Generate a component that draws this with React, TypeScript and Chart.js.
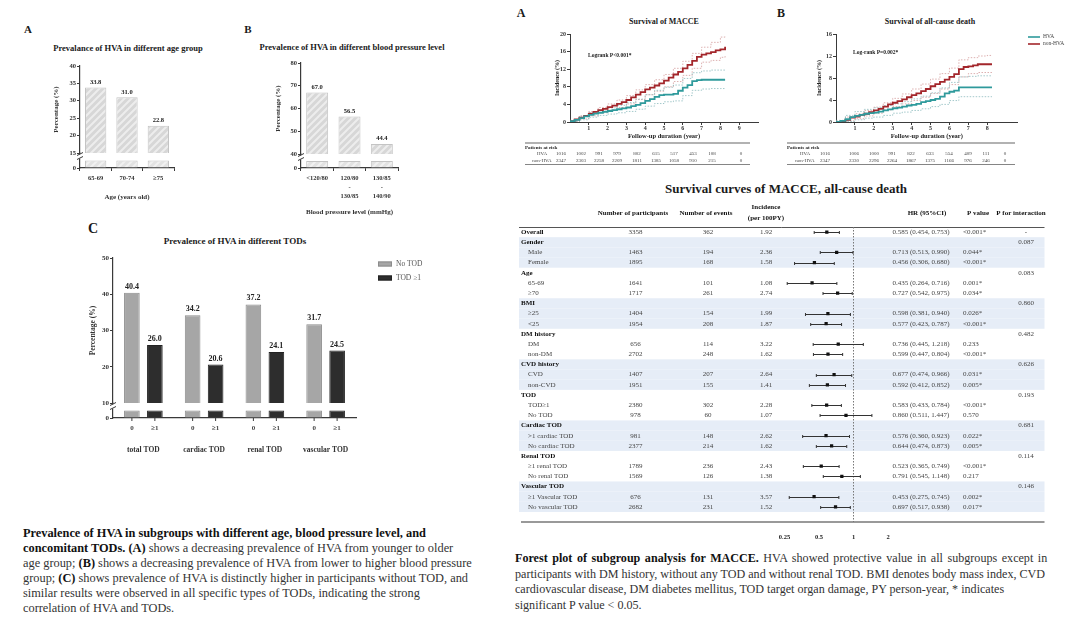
import React, { useEffect, useRef } from 'react';
import { Chart, registerables } from 'chart.js';

Chart.register(...registerables);

const SERIF = "'Liberation Serif', 'Times New Roman', serif";
const AXIS = '#3a3a3a';
const TEAL = '#2f9a9c';
const RED = '#a3262b';
const TEAL_CI = 'rgba(120,175,178,0.85)';
const RED_CI = 'rgba(205,140,140,0.85)';
const SHADE = '#e6edf7';
const BREAK_STUB = 1;
const BREAK_AXIS_MAX = 2;

// ---------------- Panel A (left): age groups ----------------
const ageGroups = ['65-69', '70-74', '≥75'];
const ageHva = [33.8, 31.0, 22.8];

// ---------------- Panel B (left): blood pressure ----------------
const bpGroups = [['<120/80'], ['120/80', '-', '130/85'], ['130/85', '-', '140/90']];
const bpHva = [67.0, 56.5, 44.4];

// ---------------- Panel C (left): TODs ----------------
const todGroups = ['total TOD', 'cardiac TOD', 'renal TOD', 'vascular TOD'];
const todSeries = ['No TOD', 'TOD ≥1'];
const todSubLabels = ['0', '≥1'];
const noTodHva = [40.4, 34.2, 37.2, 31.7];
const withTodHva = [26.0, 20.6, 24.1, 24.5];

// ---------------- Kaplan-Meier curves ----------------
const kmTimes = [0, 0.25, 0.5, 0.75, 1, 1.25, 1.5, 1.75, 2, 2.25, 2.5, 2.75, 3, 3.25, 3.5, 3.75, 4, 4.25, 4.5, 4.75, 5, 5.25, 5.5, 5.75, 6, 6.25, 6.5, 6.75, 7, 7.25, 7.5, 7.75, 8, 8.25];
const ciTimes = [0, 0.5, 1, 1.5, 2, 2.5, 3, 3.5, 4, 4.5, 5, 5.5, 6, 6.5, 7, 7.5, 8, 8.25];
const kmGroups = ['HVA', 'non-HVA'];

const maccNonHva = [0.2, 0.6, 1.0, 1.4, 1.9, 2.3, 2.7, 3.0, 3.4, 3.7, 4.1, 4.5, 5.0, 5.6, 6.2, 6.8, 7.4, 7.8, 8.3, 8.8, 9.4, 10.1, 10.8, 11.4, 12.2, 13.0, 13.9, 14.8, 15.3, 15.6, 15.9, 16.3, 16.5, 17.1];
const maccHva = [0.2, 0.5, 0.9, 1.3, 1.6, 1.9, 2.1, 2.3, 2.5, 2.7, 2.9, 3.1, 3.3, 3.6, 3.9, 4.3, 4.8, 5.2, 5.7, 6.1, 6.2, 6.2, 6.4, 7.1, 7.8, 8.4, 9.3, 9.5, 9.6, 9.6, 9.6, 9.6, 9.6, 9.6];
const maccNonHvaUpper = [0.4, 1.4, 2.4, 3.3, 4.1, 5.0, 6.0, 7.3, 8.5, 9.6, 10.8, 12.2, 13.8, 15.6, 17.0, 18.1, 19.3, 19.6];
const maccNonHvaLower = [0.1, 0.7, 1.4, 2.1, 2.7, 3.3, 4.1, 5.1, 6.2, 7.0, 8.0, 9.2, 10.6, 12.2, 13.6, 14.0, 14.7, 15.0];
const maccHvaUpper = [0.3, 1.3, 2.1, 2.7, 3.2, 3.8, 4.4, 5.2, 6.2, 7.2, 7.9, 8.4, 9.9, 11.2, 11.6, 11.8, 11.8, 11.8];
const maccHvaLower = [0.1, 0.5, 1.1, 1.5, 1.8, 2.1, 2.4, 2.9, 3.6, 4.2, 4.6, 4.8, 6.0, 7.2, 7.5, 7.6, 7.6, 7.6];

const deathNonHva = [0, 0.1, 0.4, 0.8, 1.0, 1.3, 1.5, 1.8, 2.1, 2.4, 2.8, 3.2, 3.5, 3.8, 4.1, 4.5, 4.9, 5.2, 5.6, 6.0, 6.5, 6.9, 7.3, 7.7, 8.2, 8.7, 9.6, 10.0, 10.1, 10.3, 10.5, 10.5, 10.5, 10.5];
const deathHva = [0, 0.2, 0.5, 0.9, 1.1, 1.3, 1.5, 1.6, 1.7, 1.9, 2.1, 2.3, 2.5, 2.6, 2.8, 3.0, 3.1, 3.3, 3.6, 3.8, 4.0, 4.2, 4.6, 5.2, 5.5, 5.7, 6.3, 6.3, 6.3, 6.3, 6.3, 6.3, 6.3, 6.3];
const deathNonHvaUpper = [0.2, 0.9, 1.5, 2.1, 2.7, 3.5, 4.3, 5.1, 6.0, 6.9, 7.8, 8.8, 9.8, 11.3, 11.7, 12.0, 12.1, 12.1];
const deathNonHvaLower = [0, 0.2, 0.6, 1.1, 1.6, 2.2, 2.8, 3.3, 3.9, 4.5, 5.2, 6.0, 6.8, 8.2, 8.8, 9.0, 9.0, 9.0];
const deathHvaUpper = [0.3, 1.2, 1.9, 2.3, 2.6, 3.0, 3.3, 3.7, 4.2, 4.7, 5.3, 6.2, 7.2, 8.2, 8.3, 8.4, 8.4, 8.4];
const deathHvaLower = [0, 0.1, 0.4, 0.7, 0.9, 1.2, 1.6, 1.8, 2.1, 2.4, 2.8, 3.2, 3.9, 4.6, 4.6, 4.6, 4.6, 4.6];

const maccRiskHva = [1016, 1002, 991, 979, 802, 615, 517, 453, 108, 0];
const maccRiskNonHva = [2347, 2303, 2258, 2209, 1811, 1385, 1058, 910, 215, 0];
const deathRiskHva = [1016, 1006, 1000, 991, 822, 633, 554, 409, 111, 0];
const deathRiskNonHva = [2347, 2330, 2296, 2264, 1867, 1375, 1166, 976, 246, 0];

// ---------------- Forest plot ----------------
const forestLabels = ['Overall', 'Gender', 'Male', 'Female', 'Age', '65-69', '≥70', 'BMI', '≥25', '<25', 'DM history', 'DM', 'non-DM', 'CVD history', 'CVD', 'non-CVD', 'TOD', 'TOD≥1', 'No TOD', 'Cardiac TOD', '>1 cardiac TOD', 'No cardiac TOD', 'Renal TOD', '≥1 renal TOD', 'No renal TOD', 'Vascular TOD', '≥1 Vascular TOD', 'No vascular TOD'];
const forestIndent = [0, 0, 1, 1, 0, 1, 1, 0, 1, 1, 0, 1, 1, 0, 1, 1, 0, 1, 1, 0, 1, 1, 0, 1, 1, 0, 1, 1];
const forestParticipants = [3358, null, 1463, 1895, null, 1641, 1717, null, 1404, 1954, null, 656, 2702, null, 1407, 1951, null, 2380, 978, null, 981, 2377, null, 1789, 1569, null, 676, 2682];
const forestEvents = [362, null, 194, 168, null, 101, 261, null, 154, 208, null, 114, 248, null, 207, 155, null, 302, 60, null, 148, 214, null, 236, 126, null, 131, 231];
const forestIncidence = [1.92, null, 2.36, 1.58, null, 1.08, 2.74, null, 1.99, 1.87, null, 3.22, 1.62, null, 2.64, 1.41, null, 2.28, 1.07, null, 2.62, 1.62, null, 2.43, 1.38, null, 3.57, 1.52];
const forestHR = [0.585, null, 0.713, 0.456, null, 0.435, 0.727, null, 0.598, 0.577, null, 0.736, 0.599, null, 0.677, 0.592, null, 0.583, 0.860, null, 0.576, 0.644, null, 0.523, 0.791, null, 0.453, 0.697];
const forestLow = [0.454, null, 0.513, 0.306, null, 0.264, 0.542, null, 0.381, 0.423, null, 0.445, 0.447, null, 0.474, 0.412, null, 0.433, 0.511, null, 0.360, 0.474, null, 0.365, 0.545, null, 0.275, 0.517];
const forestHigh = [0.753, null, 0.990, 0.680, null, 0.716, 0.975, null, 0.940, 0.787, null, 1.218, 0.804, null, 0.966, 0.852, null, 0.784, 1.447, null, 0.923, 0.873, null, 0.749, 1.148, null, 0.745, 0.938];
const forestP = ['<0.001*', '', '0.044*', '<0.001*', '', '0.001*', '0.034*', '', '0.026*', '<0.001*', '', '0.233', '<0.001*', '', '0.031*', '0.005*', '', '<0.001*', '0.570', '', '0.022*', '0.005*', '', '<0.001*', '0.217', '', '0.002*', '0.017*'];
const forestPInteraction = ['-', '0.087', '', '', '0.083', '', '', '0.860', '', '', '0.482', '', '', '0.626', '', '', '0.193', '', '', '0.681', '', '', '0.114', '', '', '0.146', '', ''];
const forestTicks = [0.25, 0.5, 1, 2];

// ---------------- helpers ----------------
function makeHatch(base: string, stripe: string) {
  const size = 7;
  const c = document.createElement('canvas');
  c.width = size;
  c.height = size;
  const g = c.getContext('2d')!;
  g.fillStyle = base;
  g.fillRect(0, 0, size, size);
  g.strokeStyle = stripe;
  g.lineWidth = 2;
  g.beginPath();
  g.moveTo(-1, size + 1);
  g.lineTo(size + 1, -1);
  g.moveTo(-1, 1);
  g.lineTo(1, -1);
  g.moveTo(size - 1, size + 1);
  g.lineTo(size + 1, size - 1);
  g.stroke();
  return g.createPattern(c, 'repeat')!;
}

const font = (size: number, bold = true) => ({ family: SERIF, size, weight: bold ? 'bold' : 'normal' });

const axisBreak = {
  id: 'axisBreak',
  afterDraw(chart: any) {
    const { ctx, chartArea } = chart;
    const x0 = chartArea.left;
    const yb = chart.scales.y.bottom;
    ctx.save();
    ctx.fillStyle = '#fff';
    ctx.fillRect(x0 - 2, yb + 1.5, 4, 4);
    ctx.strokeStyle = AXIS;
    ctx.lineWidth = 1;
    ctx.beginPath();
    ctx.moveTo(x0 - 3, yb + 2.5);
    ctx.lineTo(x0 + 3, yb - 0.5);
    ctx.moveTo(x0 - 3, yb + 6.5);
    ctx.lineTo(x0 + 3, yb + 3.5);
    ctx.stroke();
    ctx.restore();
  },
};

function valueLabels(size: number, count: number) {
  return {
    id: 'valueLabels',
    afterDatasetsDraw(chart: any) {
      const ctx = chart.ctx;
      ctx.save();
      ctx.font = `bold ${size}px ${SERIF}`;
      ctx.fillStyle = '#222';
      ctx.textAlign = 'center';
      ctx.textBaseline = 'bottom';
      for (let d = 0; d < count; d++) {
        const ds = chart.data.datasets[d];
        chart.getDatasetMeta(d).data.forEach((bar: any, i: number) => {
          ctx.fillText(Number(ds.data[i]).toFixed(1), bar.x, bar.y - 2);
        });
      }
      ctx.restore();
    },
  };
}

function breakBarConfig(p: any) {
  const datasets: any[] = [];
  p.series.forEach((s: any, i: number) => {
    datasets.push({
      label: s.label, data: s.data, yAxisID: 'y', stack: 's' + i,
      backgroundColor: s.fill, borderColor: s.border, borderWidth: 1,
      categoryPercentage: p.catPct, barPercentage: p.barPct,
    });
  });
  p.series.forEach((s: any, i: number) => {
    datasets.push({
      label: s.label + ' (below break)', data: s.data.map((v: number) => Math.min(v, BREAK_STUB)), yAxisID: 'yb', stack: 's' + i,
      backgroundColor: s.stubFill, borderColor: s.border, borderWidth: 1,
      categoryPercentage: p.catPct, barPercentage: p.barPct,
    });
  });
  const yCommon: any = {
    position: 'left',
    stack: 'v',
    grid: { drawOnChartArea: false, drawTicks: true, tickLength: 3, color: AXIS },
    border: { display: true, color: AXIS, width: 1.2 },
    afterFit: (s: any) => { s.width = p.yW; },
  };
  return {
    type: 'bar',
    data: { labels: p.labels, datasets },
    options: {
      responsive: false,
      animation: false,
      layout: { padding: { top: p.padTop, right: p.padRight, left: 0, bottom: 0 } },
      plugins: { legend: { display: false }, tooltip: { enabled: false } },
      scales: {
        x: {
          type: 'category',
          offset: true,
          grid: { drawOnChartArea: false, color: AXIS, ...p.xGrid },
          border: { display: true, color: AXIS, width: 1.2 },
          ticks: { font: font(p.xTickSize), color: '#333', autoSkip: false, maxRotation: 0, ...p.xTicks },
          title: p.xTitle ? { display: true, text: p.xTitle, font: font(7), color: '#333', padding: { top: 0, bottom: p.xTitlePad } } : { display: false },
          afterFit: (s: any) => { s.height = p.xH; },
        },
        y: {
          ...yCommon,
          type: 'linear',
          weight: 2,
          stackWeight: p.topWeight,
          min: p.min,
          max: p.max,
          ticks: { font: font(p.yTickSize), color: '#333', padding: 1, stepSize: p.step },
          title: { display: true, text: 'Percentage (%)', font: font(p.yTitleSize), color: '#333', padding: { top: p.yTitlePad, bottom: 0 } },
        },
        yb: {
          ...yCommon,
          type: 'linear',
          weight: 1,
          stackWeight: p.botWeight,
          min: 0,
          max: BREAK_AXIS_MAX,
          ticks: { font: font(p.yTickSize), color: '#333', padding: 1 },
          afterBuildTicks: (s: any) => { s.ticks = [{ value: 0 }]; },
        },
      },
    },
    plugins: [axisBreak, valueLabels(p.valueSize, p.series.length), ...(p.plugins || [])],
  };
}

function ageConfig() {
  const hatch = makeHatch('#d7d7d7', '#ededed');
  const hatchLight = makeHatch('#e2e2e2', '#f1f1f1');
  return breakBarConfig({
    labels: ageGroups,
    series: [{ label: 'HVA prevalence', data: ageHva, fill: hatch, stubFill: hatchLight, border: '#c4c4c4' }],
    min: 15, max: 40, step: 5,
    yW: 32, xH: 40, padTop: 10, padRight: 16,
    topWeight: 87, botWeight: 15,
    catPct: 1, barPct: 0.68,
    xTickSize: 6.5, yTickSize: 6.5, yTitleSize: 7, valueSize: 6.5,
    xTicks: { padding: 3 }, xGrid: { drawTicks: true, tickLength: 3 },
    xTitle: 'Age (years old)', xTitlePad: 6.8, yTitlePad: 3.8,
  });
}

function bpConfig() {
  const hatch = makeHatch('#d7d7d7', '#ededed');
  const hatchLight = makeHatch('#e2e2e2', '#f1f1f1');
  return breakBarConfig({
    labels: bpGroups,
    series: [{ label: 'HVA prevalence', data: bpHva, fill: hatch, stubFill: hatchLight, border: '#c4c4c4' }],
    min: 40, max: 80, step: 10,
    yW: 31, xH: 54, padTop: 10, padRight: 12,
    topWeight: 91, botWeight: 14,
    catPct: 1, barPct: 0.68,
    xTickSize: 6.5, yTickSize: 6.5, yTitleSize: 7, valueSize: 6.5,
    xTicks: { padding: 2.6, font: { family: SERIF, size: 6.5, weight: 'bold', lineHeight: 1.4 } },
    xGrid: { drawTicks: true, tickLength: 3 },
    xTitle: 'Blood pressure level (mmHg)', xTitlePad: 5.8, yTitlePad: 3.8,
  });
}

const todExtras = {
  id: 'todExtras',
  afterDraw(chart: any) {
    const { ctx, chartArea } = chart;
    ctx.save();
    ctx.strokeStyle = AXIS;
    ctx.lineWidth = 1;
    ctx.fillStyle = '#444';
    ctx.font = `bold 7px ${SERIF}`;
    ctx.textAlign = 'center';
    ctx.textBaseline = 'middle';
    [0, 1].forEach((d) => {
      chart.getDatasetMeta(d).data.forEach((bar: any) => {
        ctx.beginPath();
        ctx.moveTo(bar.x, chartArea.bottom);
        ctx.lineTo(bar.x, chartArea.bottom + 3);
        ctx.stroke();
        ctx.fillText(todSubLabels[d], bar.x, chartArea.bottom + 10);
      });
    });
    // legend
    const lx = 293;
    const ly = 14;
    ctx.textAlign = 'left';
    ctx.font = `7.5px ${SERIF}`;
    [0, 1].forEach((d) => {
      const ds = chart.data.datasets[d];
      const yy = ly + d * 14;
      ctx.fillStyle = ds.backgroundColor;
      ctx.fillRect(lx, yy - 2.5, 14, 5);
      ctx.strokeStyle = ds.borderColor;
      ctx.strokeRect(lx + 0.5, yy - 2, 13, 4);
      ctx.fillStyle = '#555';
      ctx.fillText(ds.label, lx + 18, yy);
    });
    ctx.restore();
  },
};

function todConfig() {
  return breakBarConfig({
    labels: todGroups,
    series: [
      { label: todSeries[0], data: noTodHva, fill: '#a6a6a6', stubFill: '#a6a6a6', border: '#8c8c8c' },
      { label: todSeries[1], data: withTodHva, fill: '#2d2d2d', stubFill: '#2d2d2d', border: '#222' },
    ],
    min: 10, max: 50, step: 10,
    yW: 28, xH: 44, padTop: 8, padRight: 74,
    topWeight: 145, botWeight: 15,
    catPct: 0.757, barPct: 0.68,
    xTickSize: 7.5, yTickSize: 7, yTitleSize: 7.5, valueSize: 8,
    xTicks: { padding: 27.5 }, xGrid: { drawTicks: false },
    yTitlePad: 3.5,
    plugins: [todExtras],
  });
}

function survivalExtras(o: any) {
  return {
    id: 'survivalExtras',
    afterDraw(chart: any) {
      const ctx = chart.ctx;
      ctx.save();
      ctx.textBaseline = 'middle';
      ctx.textAlign = 'left';
      ctx.fillStyle = '#222';
      ctx.font = `bold 5.5px ${SERIF}`;
      ctx.fillText(o.logrank, o.logrankX, o.logrankY);
      // risk table
      ctx.strokeStyle = '#666';
      ctx.lineWidth = 1.2;
      ctx.beginPath();
      ctx.moveTo(o.tableL, 115);
      ctx.lineTo(o.tableR, 115);
      ctx.stroke();
      ctx.lineWidth = 0.8;
      ctx.beginPath();
      ctx.moveTo(o.tableL, 136.5);
      ctx.lineTo(o.tableR, 136.5);
      ctx.stroke();
      ctx.font = `bold 5px ${SERIF}`;
      ctx.fillText('Patients at risk', o.tableL, 119.5);
      ctx.font = `5px ${SERIF}`;
      ctx.fillStyle = '#444';
      ctx.textAlign = 'center';
      kmGroups.forEach((g, r) => {
        const yy = 126 + r * 7;
        ctx.fillText(g, o.labelX, yy);
        o.risk[r].forEach((v: number, c: number) => ctx.fillText(String(v), o.cols[c], yy));
      });
      if (o.legend) {
        ctx.textAlign = 'left';
        ctx.font = `5.5px ${SERIF}`;
        [0, 1].forEach((d) => {
          const ds = chart.data.datasets[d];
          const yy = o.legend.y + d * 7;
          ctx.strokeStyle = ds.borderColor;
          ctx.lineWidth = 1.6;
          ctx.beginPath();
          ctx.moveTo(o.legend.x, yy);
          ctx.lineTo(o.legend.x + 12, yy);
          ctx.stroke();
          ctx.fillStyle = '#444';
          ctx.fillText(ds.label, o.legend.x + 15, yy);
        });
      }
      ctx.restore();
    },
  };
}

function survivalConfig(p: any) {
  const pts = (ts: number[], vs: number[]) => ts.map((t, i) => ({ x: t, y: vs[i] }));
  const main = (label: string, data: any[], color: string) => ({ label, data, borderColor: color, backgroundColor: color, borderWidth: 1.8, stepped: true, pointRadius: 0, fill: false });
  const ci = (label: string, data: any[], color: string) => ({ label, data, borderColor: color, borderWidth: 0.8, borderDash: [1.5, 1.5], stepped: true, pointRadius: 0, fill: false });
  return {
    type: 'line',
    data: {
      datasets: [
        main(kmGroups[0], pts(kmTimes, p.hva), TEAL),
        main(kmGroups[1], pts(kmTimes, p.non), RED),
        ci('HVA upper CI', pts(ciTimes, p.hvaU), TEAL_CI),
        ci('HVA lower CI', pts(ciTimes, p.hvaL), TEAL_CI),
        ci('non-HVA upper CI', pts(ciTimes, p.nonU), RED_CI),
        ci('non-HVA lower CI', pts(ciTimes, p.nonL), RED_CI),
      ],
    },
    options: {
      responsive: false,
      animation: false,
      layout: { padding: { top: 6, right: p.padRight, bottom: 27, left: 0 } },
      plugins: { legend: { display: false }, tooltip: { enabled: false } },
      scales: {
        x: {
          type: 'linear', min: 0, max: p.xMax,
          ticks: { stepSize: 1, font: font(6), color: '#333', padding: 0 },
          afterBuildTicks: (s: any) => { s.ticks = s.ticks.filter((t: any) => Number.isInteger(t.value) && t.value >= 1 && t.value <= 9); },
          grid: { drawOnChartArea: false, tickLength: 3, color: AXIS },
          border: { color: AXIS, width: 1 },
          title: { display: true, text: 'Follow-up duration (year)', font: font(6.5), color: '#222', padding: { top: 0, bottom: 1 } },
          afterFit: (s: any) => { s.height = 19; },
        },
        y: {
          type: 'linear', min: 0, max: p.yMax,
          ticks: { stepSize: 4, font: font(6), color: '#333', padding: 1 },
          grid: { drawOnChartArea: false, tickLength: 3, color: AXIS },
          border: { color: AXIS, width: 1 },
          title: { display: true, text: 'Incidence (%)', font: font(6), color: '#222', padding: { top: p.yTitlePad, bottom: 0 } },
          afterFit: (s: any) => { s.width = p.yW; },
        },
      },
    },
    plugins: [survivalExtras(p.extras)],
  };
}

function maccConfig() {
  return survivalConfig({
    hva: maccHva, non: maccNonHva, hvaU: maccHvaUpper, hvaL: maccHvaLower, nonU: maccNonHvaUpper, nonL: maccNonHvaLower,
    yMax: 20, xMax: 10, yW: 55, yTitlePad: 38.4, padRight: 10,
    extras: {
      risk: [maccRiskHva, maccRiskNonHva],
      cols: [46, 66, 84, 102, 122, 141, 159, 178, 197, 226],
      labelX: 27, tableL: 10, tableR: 235,
      logrank: 'Logrank P<0.001*', logrankX: 73, logrankY: 28,
    },
  });
}

function deathConfig() {
  return survivalConfig({
    hva: deathHva, non: deathNonHva, hvaU: deathHvaUpper, hvaL: deathHvaLower, nonU: deathNonHvaUpper, nonL: deathNonHvaLower,
    yMax: 16, xMax: 9.6, yW: 56, yTitlePad: 35.4, padRight: 57.5,
    extras: {
      risk: [deathRiskHva, deathRiskNonHva],
      cols: [45, 74, 94, 112, 131, 150, 169, 188, 206, 225],
      labelX: 25, tableL: 7, tableR: 235,
      logrank: 'Log-rank P=0.002*', logrankX: 73, logrankY: 25,
      legend: { x: 248, y: 9 },
    },
  });
}

// forest table column layout (canvas-relative)
const FT = {
  L: 9, R: 534.5, labelHead: 11, labelSub: 18,
  part: 125.5, events: 198, inc: 256, hr: 411, p: 453, pint: 516,
  hPart: 123, hEvents: 196, hHr: 417, hP: 468, hPint: 511,
  axisY: 327, tickY: 342,
};

const forestPlugin = {
  id: 'forestTable',
  beforeDatasetsDraw(chart: any) {
    const { ctx, chartArea } = chart;
    const { x, y } = chart.scales;
    const rowH = Math.abs(y.getPixelForValue(1) - y.getPixelForValue(0));
    ctx.save();
    let group = -1;
    forestLabels.forEach((_, i) => {
      if (forestIndent[i] === 0) group += 1;
      if (group % 2 === 1) {
        const cy = y.getPixelForValue(i);
        ctx.fillStyle = SHADE;
        ctx.fillRect(FT.L, cy - rowH / 2, FT.R - FT.L, rowH);
      }
    });
    ctx.strokeStyle = '#555';
    ctx.lineWidth = 1;
    ctx.beginPath();
    ctx.moveTo(FT.L, chartArea.top + 0.5);
    ctx.lineTo(FT.R, chartArea.top + 0.5);
    ctx.stroke();
    const x1 = x.getPixelForValue(1);
    ctx.setLineDash([1.5, 1.5]);
    ctx.strokeStyle = '#777';
    ctx.beginPath();
    ctx.moveTo(x1, chartArea.top);
    ctx.lineTo(x1, FT.axisY);
    ctx.stroke();
    ctx.setLineDash([]);
    ctx.strokeStyle = '#333';
    ctx.lineWidth = 1;
    forestLabels.forEach((_, i) => {
      if (forestHR[i] == null) return;
      const cy = Math.round(y.getPixelForValue(i)) + 0.5;
      const xl = x.getPixelForValue(forestLow[i]);
      const xh = x.getPixelForValue(forestHigh[i]);
      ctx.beginPath();
      ctx.moveTo(xl, cy);
      ctx.lineTo(xh, cy);
      ctx.moveTo(xl, cy - 1.5);
      ctx.lineTo(xl, cy + 1.5);
      ctx.moveTo(xh, cy - 1.5);
      ctx.lineTo(xh, cy + 1.5);
      ctx.stroke();
    });
    ctx.restore();
  },
  afterDraw(chart: any) {
    const { ctx } = chart;
    const { x, y } = chart.scales;
    ctx.save();
    ctx.textBaseline = 'middle';
    ctx.fillStyle = '#111';
    ctx.font = `bold 7px ${SERIF}`;
    ctx.textAlign = 'center';
    ctx.fillText('Number of participants', FT.hPart, 18);
    ctx.fillText('Number of events', FT.hEvents, 18);
    ctx.fillText('Incidence', FT.inc, 12.5);
    ctx.fillText('(per 100PY)', FT.inc, 23.5);
    ctx.fillText('HR (95%CI)', FT.hHr, 18);
    ctx.fillText('P value', FT.hP, 18);
    ctx.fillText('P for interaction', FT.hPint, 18);
    forestLabels.forEach((label, i) => {
      const cy = y.getPixelForValue(i);
      const head = forestIndent[i] === 0;
      ctx.textAlign = 'left';
      ctx.fillStyle = head ? '#111' : '#444';
      ctx.font = `${head ? 'bold ' : ''}7px ${SERIF}`;
      ctx.fillText(label, head ? FT.labelHead : FT.labelSub, cy);
      ctx.font = `7px ${SERIF}`;
      ctx.fillStyle = '#444';
      ctx.textAlign = 'center';
      if (forestParticipants[i] != null) ctx.fillText(String(forestParticipants[i]), FT.part, cy);
      if (forestEvents[i] != null) ctx.fillText(String(forestEvents[i]), FT.events, cy);
      if (forestIncidence[i] != null) ctx.fillText((forestIncidence[i] as number).toFixed(2), FT.inc, cy);
      if (forestHR[i] != null) {
        ctx.fillText(`${(forestHR[i] as number).toFixed(3)} (${(forestLow[i] as number).toFixed(3)}, ${(forestHigh[i] as number).toFixed(3)})`, FT.hr, cy);
      }
      if (forestPInteraction[i]) ctx.fillText(forestPInteraction[i], FT.pint, cy);
      ctx.textAlign = 'left';
      if (forestP[i]) ctx.fillText(forestP[i], FT.p, cy);
    });
    ctx.strokeStyle = '#777';
    ctx.lineWidth = 1.5;
    ctx.beginPath();
    ctx.moveTo(FT.labelHead, FT.axisY);
    ctx.lineTo(FT.R, FT.axisY);
    ctx.stroke();
    ctx.fillStyle = '#222';
    ctx.font = `bold 6.5px ${SERIF}`;
    ctx.textAlign = 'center';
    forestTicks.forEach((t) => ctx.fillText(String(t), x.getPixelForValue(t), FT.tickY));
    ctx.restore();
  },
};

function forestConfig() {
  const pts = forestLabels
    .map((l, i) => (forestHR[i] == null ? null : { x: forestHR[i], y: l }))
    .filter((p) => p !== null);
  return {
    type: 'scatter',
    data: {
      labels: forestLabels,
      datasets: [{ label: 'HR (95%CI)', data: pts, pointStyle: 'rect', pointRadius: 2.3, backgroundColor: '#111', borderColor: '#111', borderWidth: 0 }],
    },
    options: {
      responsive: false,
      animation: false,
      layout: { padding: { left: 274.5, right: 132.5, top: 32, bottom: 33 } },
      plugins: { legend: { display: false }, tooltip: { enabled: false } },
      scales: {
        x: { type: 'logarithmic', min: 0.25, max: 4, display: false },
        y: { type: 'category', labels: forestLabels, offset: true, min: 0, max: forestLabels.length - 1, display: false },
      },
    },
    plugins: [forestPlugin],
  };
}

function ChartBox({ left, top, width, height, make }: { left: number; top: number; width: number; height: number; make: () => any }) {
  const ref = useRef<HTMLCanvasElement>(null);
  useEffect(() => {
    const chart = new Chart(ref.current as HTMLCanvasElement, make());
    return () => chart.destroy();
  }, []);
  return <canvas ref={ref} width={width} height={height} style={{ position: 'absolute', left, top, width, height }} />;
}

function Label({ x, y, size, children, bold = true }: { x: number; y: number; size: number; children: any; bold?: boolean }) {
  return (
    <div
      style={{
        position: 'absolute', left: x, top: y, transform: 'translate(-50%, -50%)',
        fontFamily: SERIF, fontSize: size, fontWeight: bold ? 'bold' : 'normal', color: '#1a1a1a', whiteSpace: 'nowrap', lineHeight: 1,
      }}
    >
      {children}
    </div>
  );
}

const B = ({ children }: { children: any }) => <b style={{ color: '#111' }}>{children}</b>;

export default function App() {
  return (
    <div style={{ position: 'absolute', left: 0, top: 0, width: 1080, height: 629, background: '#fff', overflow: 'hidden' }}>
      {/* Left figure */}
      <Label x={28} y={28.5} size={11}>A</Label>
      <Label x={128} y={48} size={8.5}>Prevalance of HVA in different age group</Label>
      <ChartBox left={48} top={56} width={142} height={152} make={ageConfig} />

      <Label x={248} y={28.5} size={11}>B</Label>
      <Label x={352} y={47} size={8.5}>Prevalence of HVA in different blood pressure level</Label>
      <ChartBox left={270} top={53} width={140} height={169} make={bpConfig} />

      <Label x={93} y={229} size={14}>C</Label>
      <Label x={235} y={241} size={9}>Prevalence of HVA in different TODs</Label>
      <ChartBox left={85} top={250} width={345} height={212} make={todConfig} />

      <div style={{ position: 'absolute', left: 23, top: 525.5, fontFamily: SERIF, fontSize: 12.35, lineHeight: '15px', color: '#333', whiteSpace: 'nowrap' }}>
        <B>Prevalence of HVA in subgroups with different age, blood pressure level, and</B><br />
        <B>concomitant TODs. (A)</B> shows a decreasing prevalence of HVA from younger to older<br />
        age group; <B>(B)</B> shows a decreasing prevalence of HVA from lower to higher blood pressure<br />
        group; <B>(C)</B> shows prevalence of HVA is distinctly higher in participants without TOD, and<br />
        similar results were observed in all specific types of TODs, indicating the strong<br />
        correlation of HVA and TODs.
      </div>

      {/* Right figure */}
      <Label x={521} y={12.5} size={12}>A</Label>
      <Label x={664} y={22} size={8}>Survival of MACCE</Label>
      <ChartBox left={515} top={28} width={253} height={140} make={maccConfig} />

      <Label x={781} y={12.5} size={12}>B</Label>
      <Label x={930} y={22} size={8}>Survival of all-cause death</Label>
      <ChartBox left={780} top={28} width={295} height={140} make={deathConfig} />

      <Label x={786} y={188} size={13}>Survival curves of MACCE, all-cause death</Label>
      <ChartBox left={510} top={195} width={545} height={350} make={forestConfig} />

      <div style={{ position: 'absolute', left: 515, top: 551, fontFamily: SERIF, fontSize: 12.1, lineHeight: '15.5px', color: '#333', whiteSpace: 'nowrap' }}>
        <span style={{ wordSpacing: 1.5 }}><B>Forest plot of subgroup analysis for MACCE.</B> HVA showed protective value in all subgroups except in</span><br />
        participants with DM history, without any TOD and without renal TOD. BMI denotes body mass index, CVD<br />
        cardiovascular disease, DM diabetes mellitus, TOD target organ damage, PY person-year, * indicates<br />
        significant P value &lt; 0.05.
      </div>
    </div>
  );
}
